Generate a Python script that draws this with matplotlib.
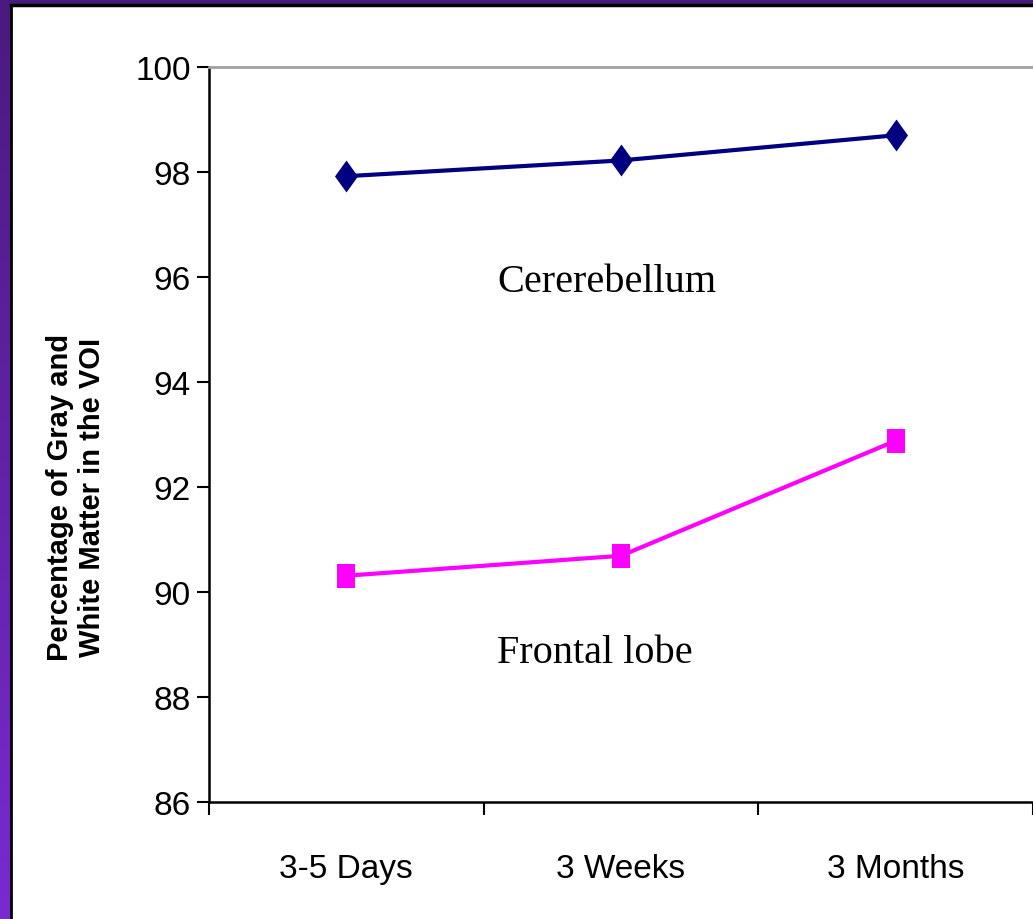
import numpy as np
import matplotlib
matplotlib.use("Agg")
import matplotlib.pyplot as plt
from matplotlib import font_manager
from matplotlib.patches import Rectangle
from matplotlib.path import Path

# data
categories = ["3-5 Days", "3 Weeks", "3 Months"]
cerebellum = [97.92, 98.22, 98.70]
frontal = [90.31, 90.69, 92.88]
y_ticks = [86, 88, 90, 92, 94, 96, 98, 100]
y_label = "Percentage of Gray and\nWhite Matter in the VOI"

names = {f.name for f in font_manager.fontManager.ttflist}
narrow = "Liberation Sans Narrow" in names
sans = "Liberation Sans Narrow" if narrow else "Liberation Sans"
tick_size = 27 if narrow else 24
ylab_size = 24 if narrow else 21

W, H = 1033, 920
fig = plt.figure(figsize=(W / 100, H / 100), dpi=100)

# purple frame on the left and top edges
bg = fig.add_axes([0, 0, 1, 1], zorder=-5)
grad = np.linspace(0, 1, 256).reshape(-1, 1)
cmap = matplotlib.colors.LinearSegmentedColormap.from_list("frame", ["#4a1a7e", "#7a2ad0"])
bg.imshow(grad, cmap=cmap, aspect="auto", extent=[0, 1, 0, 1])
bg.set_xlim(0, 1)
bg.set_ylim(0, 1)
bg.axis("off")
bg.add_patch(Rectangle((11 / W, 0), 1, 1 - 6 / H, transform=bg.transAxes,
                       facecolor="white", edgecolor="none"))
bg.plot([11 / W, 11 / W], [0, 1 - 6 / H], color="black", lw=2)
bg.plot([11 / W, 1], [1 - 6 / H, 1 - 6 / H], color="black", lw=2.5)

ax = fig.add_axes([209 / W, 117 / H, 1 - 209 / W, 735 / H])
x = np.arange(len(categories))

diamond = Path([(0, 1), (0.72, 0), (0, -1), (-0.72, 0), (0, 1)],
               [Path.MOVETO, Path.LINETO, Path.LINETO, Path.LINETO, Path.CLOSEPOLY])
rect = Path([(-0.37, -0.5), (0.37, -0.5), (0.37, 0.5), (-0.37, 0.5), (-0.37, -0.5)],
            [Path.MOVETO, Path.LINETO, Path.LINETO, Path.LINETO, Path.CLOSEPOLY])

ax.plot(x, cerebellum, color="#000080", lw=3, marker=diamond, markersize=23,
        markeredgewidth=0, clip_on=False)
ax.plot(x, frontal, color="#ff00ff", lw=3, marker=rect, markersize=17,
        markeredgewidth=0, clip_on=False)

ax.set_xlim(-0.5, 2.5)
ax.set_ylim(86, 100)
ax.set_yticks(y_ticks)
ax.set_yticklabels([str(v) for v in y_ticks], fontfamily=sans, fontsize=tick_size)
ax.set_xticks(x)
ax.set_xticklabels(categories, fontfamily=sans, fontsize=tick_size)
ax.tick_params(axis="x", length=0, pad=37)
ax.set_xticks([-0.5, 0.5, 1.5, 2.5], minor=True)
ax.tick_params(axis="x", which="minor", length=9, width=1.5, direction="out")
ax.tick_params(axis="y", length=9, width=1.5, direction="out", pad=4)

ax.spines["right"].set_visible(False)
ax.spines["top"].set_color("#a0a0a0")
ax.spines["top"].set_linewidth(2)
ax.spines["left"].set_linewidth(1.8)
ax.spines["bottom"].set_linewidth(1.8)

ax.text(0.55, 95.73, "Cererebellum", fontfamily="Liberation Serif", fontsize=29)
ax.text(0.55, 88.67, "Frontal lobe", fontfamily="Liberation Serif", fontsize=29)

fig.text(76 / W, 0.5 + (920 / 2 - 497) / H, y_label, rotation=90, ha="center", va="center",
         fontfamily=sans, fontsize=ylab_size, fontweight="bold", linespacing=1.2)

fig.savefig("out.png", dpi=100)
